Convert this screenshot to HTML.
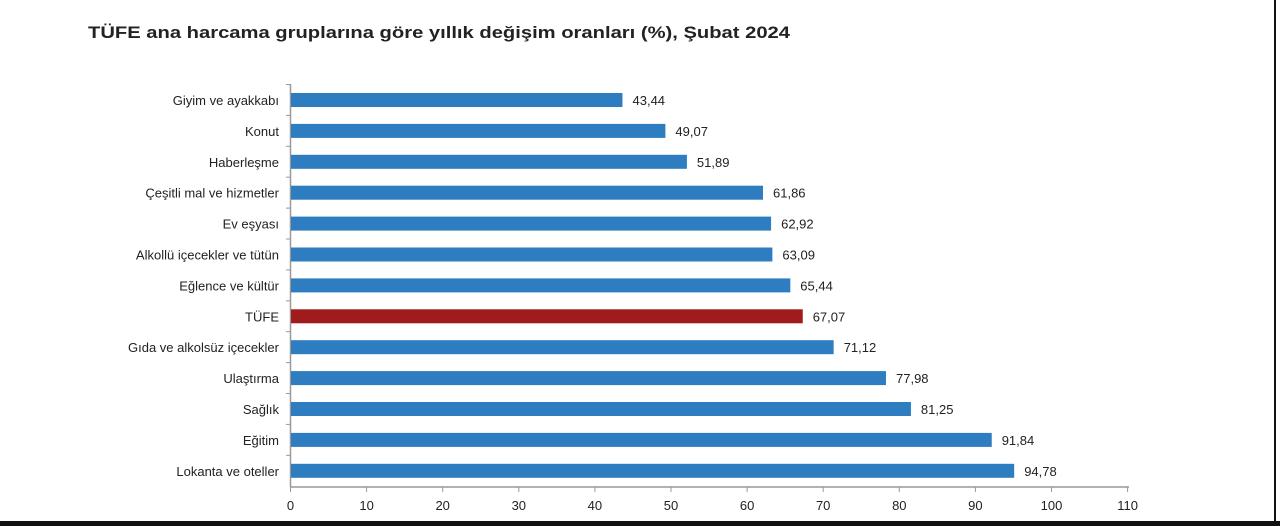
<!DOCTYPE html>
<html><head><meta charset="utf-8"><style>
html,body{margin:0;padding:0;background:#fff;}
svg{display:block;font-family:"Liberation Sans",Arial,sans-serif;}
</style></head><body>
<svg width="1280" height="526" viewBox="0 0 1280 526">
<rect width="1280" height="526" fill="#fff"/>
<text x="88" y="38" font-size="17" font-weight="bold" fill="#222" textLength="702" lengthAdjust="spacingAndGlyphs">TÜFE ana harcama gruplarına göre yıllık değişim oranları (%), Şubat 2024</text>
<g stroke="#999" stroke-width="1.5">
<line x1="290.5" y1="84" x2="290.5" y2="487"/>
<line x1="290" y1="487" x2="1129" y2="487"/>
</g>
<g fill="#2e7dc0">
<rect x="291" y="93" width="331.45" height="14"/>
<rect x="291" y="123.9" width="374.4" height="14"/>
<rect x="291" y="154.8" width="395.92" height="14"/>
<rect x="291" y="185.7" width="471.99" height="14"/>
<rect x="291" y="216.6" width="480.08" height="14"/>
<rect x="291" y="247.5" width="481.38" height="14"/>
<rect x="291" y="278.4" width="499.31" height="14"/>
<rect x="291" y="309.3" width="511.74" height="14" fill="#a01c1c"/>
<rect x="291" y="340.2" width="542.65" height="14"/>
<rect x="291" y="371.1" width="594.99" height="14"/>
<rect x="291" y="402" width="619.94" height="14"/>
<rect x="291" y="432.9" width="700.74" height="14"/>
<rect x="291" y="463.8" width="723.17" height="14"/>
</g>
<g font-size="13" fill="#222" text-anchor="end">
<text x="279" y="105">Giyim ve ayakkabı</text>
<text x="279" y="135.9">Konut</text>
<text x="279" y="166.8">Haberleşme</text>
<text x="279" y="197.7">Çeşitli mal ve hizmetler</text>
<text x="279" y="228.6">Ev eşyası</text>
<text x="279" y="259.5">Alkollü içecekler ve tütün</text>
<text x="279" y="290.4">Eğlence ve kültür</text>
<text x="279" y="321.3">TÜFE</text>
<text x="279" y="352.2">Gıda ve alkolsüz içecekler</text>
<text x="279" y="383.1">Ulaştırma</text>
<text x="279" y="414">Sağlık</text>
<text x="279" y="444.9">Eğitim</text>
<text x="279" y="475.8">Lokanta ve oteller</text>
</g>
<g font-size="13" fill="#222">
<text x="632.5" y="105">43,44</text>
<text x="675.4" y="135.9">49,07</text>
<text x="696.9" y="166.8">51,89</text>
<text x="773" y="197.7">61,86</text>
<text x="781.1" y="228.6">62,92</text>
<text x="782.4" y="259.5">63,09</text>
<text x="800.3" y="290.4">65,44</text>
<text x="812.7" y="321.3">67,07</text>
<text x="843.7" y="352.2">71,12</text>
<text x="896" y="383.1">77,98</text>
<text x="920.9" y="414">81,25</text>
<text x="1001.7" y="444.9">91,84</text>
<text x="1024.2" y="475.8">94,78</text>
</g>
<g stroke="#999">
<line x1="286" x2="291" y1="84.5" y2="84.5"/><line x1="286" x2="291" y1="115.4" y2="115.4"/>
<line x1="286" x2="291" y1="146.3" y2="146.3"/><line x1="286" x2="291" y1="177.2" y2="177.2"/>
<line x1="286" x2="291" y1="208.1" y2="208.1"/><line x1="286" x2="291" y1="239" y2="239"/>
<line x1="286" x2="291" y1="269.9" y2="269.9"/><line x1="286" x2="291" y1="300.8" y2="300.8"/>
<line x1="286" x2="291" y1="331.7" y2="331.7"/><line x1="286" x2="291" y1="362.6" y2="362.6"/>
<line x1="286" x2="291" y1="393.5" y2="393.5"/><line x1="286" x2="291" y1="424.4" y2="424.4"/>
<line x1="286" x2="291" y1="455.3" y2="455.3"/>
<line x1="290.5" x2="290.5" y1="487" y2="492"/><line x1="366.6" x2="366.6" y1="487" y2="492"/>
<line x1="442.7" x2="442.7" y1="487" y2="492"/><line x1="518.8" x2="518.8" y1="487" y2="492"/>
<line x1="594.9" x2="594.9" y1="487" y2="492"/><line x1="671" x2="671" y1="487" y2="492"/>
<line x1="747.1" x2="747.1" y1="487" y2="492"/><line x1="823.2" x2="823.2" y1="487" y2="492"/>
<line x1="899.3" x2="899.3" y1="487" y2="492"/><line x1="975.4" x2="975.4" y1="487" y2="492"/>
<line x1="1051.5" x2="1051.5" y1="487" y2="492"/><line x1="1127.6" x2="1127.6" y1="487" y2="492"/>
</g>
<g font-size="13" fill="#222" text-anchor="middle">
<text x="290.5" y="510">0</text><text x="366.6" y="510">10</text><text x="442.7" y="510">20</text>
<text x="518.8" y="510">30</text><text x="594.9" y="510">40</text><text x="671" y="510">50</text>
<text x="747.1" y="510">60</text><text x="823.2" y="510">70</text><text x="899.3" y="510">80</text>
<text x="975.4" y="510">90</text><text x="1051.5" y="510">100</text><text x="1127.6" y="510">110</text>
</g>
<rect x="0" y="521" width="1280" height="5" fill="#111"/>
<rect x="1274" y="0" width="2" height="526" fill="#111"/>
</svg>
</body></html>
